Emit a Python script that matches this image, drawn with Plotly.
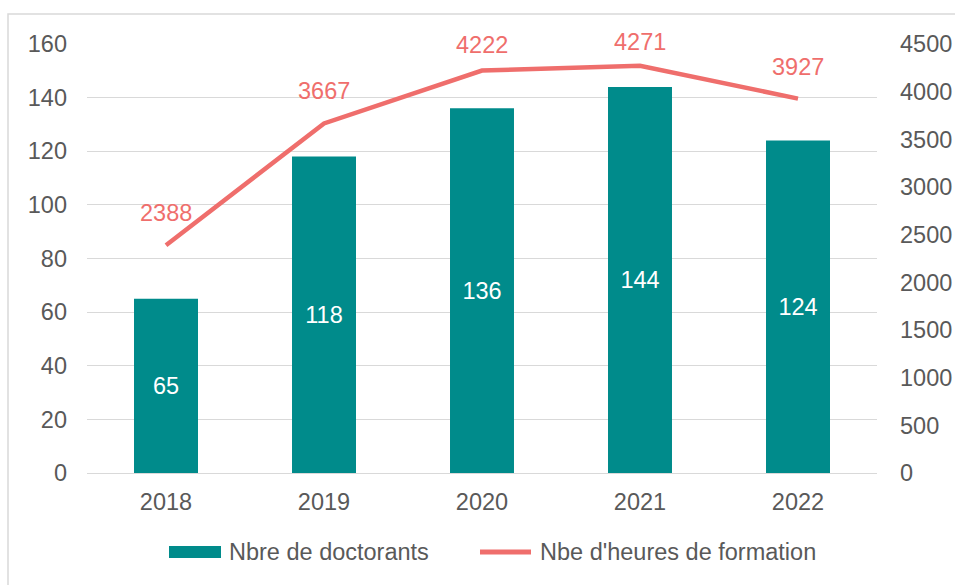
import plotly.graph_objects as go

years = ["2018", "2019", "2020", "2021", "2022"]
doctorants = [65, 118, 136, 144, 124]
heures = [2388, 3667, 4222, 4271, 3927]
legend_labels = ["Nbre de doctorants", "Nbe d'heures de formation"]

teal = "#008B8B"
coral = "#EF6E6C"
grey = "#595959"
font = "Liberation Sans, Arial, sans-serif"
fs = 23.5

W, H = 955, 585
# plot area in page pixels
L, R, T, B = 87, 877, 44, 473
def px(x):
    return (x - L) / (R - L)
def py(y):
    return (B - y) / (B - T)

fig = go.Figure()
fig.add_trace(go.Bar(
    x=years, y=doctorants, name=legend_labels[0],
    marker=dict(color=teal, line=dict(width=0)),
    text=[str(v) for v in doctorants], textposition="inside",
    insidetextanchor="middle", textangle=0,
    textfont=dict(color="white", size=fs, family=font),
    showlegend=False,
))
fig.add_trace(go.Scatter(
    x=years, y=heures, name=legend_labels[1], yaxis="y2",
    mode="lines", line=dict(color=coral, width=4.5),
    showlegend=False,
))

label_shift = [17, 17, 11, 9, 17]
annotations = [
    dict(x=i, y=h, xref="x", yref="y2", text=str(h), showarrow=False,
         yanchor="bottom", yshift=s, font=dict(color=coral, size=fs, family=font))
    for i, (h, s) in enumerate(zip(heures, label_shift))
]
annotations += [
    dict(x=px(227), y=py(552), xref="paper", yref="paper", text=legend_labels[0],
         showarrow=False, xanchor="left", yanchor="middle",
         font=dict(color=grey, size=fs, family=font)),
    dict(x=px(538), y=py(552), xref="paper", yref="paper", text=legend_labels[1],
         showarrow=False, xanchor="left", yanchor="middle",
         font=dict(color=grey, size=fs, family=font)),
]

shapes = [
    dict(type="rect", xref="paper", yref="paper",
         x0=px(8), x1=px(990), y0=py(620), y1=py(14),
         line=dict(color="#D9D9D9", width=1.5), layer="below"),
    dict(type="rect", xref="paper", yref="paper",
         x0=px(169), x1=px(221), y0=py(558), y1=py(546),
         fillcolor=teal, line=dict(width=0)),
    dict(type="line", xref="paper", yref="paper",
         x0=px(480), x1=px(531), y0=py(552), y1=py(552),
         line=dict(color=coral, width=5)),
]

fig.update_layout(
    width=W, height=H,
    margin=dict(l=L, r=W - R, t=T, b=H - B, pad=0),
    paper_bgcolor="white", plot_bgcolor="white",
    font=dict(family=font, size=fs, color=grey),
    bargap=0.595,
    showlegend=False,
    xaxis=dict(type="category", range=[-0.5, 4.5], showgrid=False, showline=False, ticks="",
               tickfont=dict(size=fs, color=grey), ticklabelstandoff=12, automargin=False),
    yaxis=dict(range=[0, 160], dtick=20, showgrid=True, gridcolor="#D9D9D9", gridwidth=1.3,
               zeroline=True, zerolinecolor="#D9D9D9", zerolinewidth=1.3, automargin=False,
               showline=False, ticks="", tickfont=dict(size=fs, color=grey), ticklabelstandoff=19),
    yaxis2=dict(range=[0, 4500], dtick=500, overlaying="y", side="right", showgrid=False,
                zeroline=False, showline=False, ticks="", tickfont=dict(size=fs, color=grey),
                ticklabelstandoff=22, automargin=False),
    shapes=shapes,
    annotations=annotations,
)

fig.write_html("out.html",
               config={"displayModeBar": False},
               post_script="document.body.style.margin='0';document.body.style.overflow='hidden';")
